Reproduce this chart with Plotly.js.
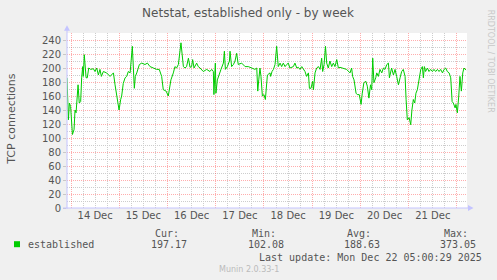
<!DOCTYPE html>
<html>
<head>
<meta charset="utf-8">
<script src="https://cdn.plot.ly/plotly-3.0.1.min.js"></script>
<style>
html,body{margin:0;padding:0;background:#F0F0F0;}
#chart{width:497px;height:280px;}
</style>
</head>
<body>
<div id="chart"></div>
<script>
// Hours since 2025-12-13 22:00 (start of the plotted window) and TCP connection counts
const startTime = Date.UTC(2025, 11, 13, 22, 0, 0);
const endTime = Date.UTC(2025, 11, 22, 5, 0, 0);
const hours = [
0,0.7,1.2,1.8,2.7,3.5,4,4.5,5.1,5.5,6.1,6.8,7.3,7.8,8.1,8.6,9.5,10.1,10.8,11.8,13.1,13.9,14.8,15.6,16.4,17.1,18.1,19.7,21.4,22.2,23.1,23.9,
24.7,25,25.9,26.7,27.2,28,28.9,29.7,30.5,31.4,32.5,33.5,34,34.7,36,37.2,38.8,40,41.3,43,44.6,45.9,47.1,47.9,49.3,50.4,50.9,51.7,52.9,53.7,
54.5,55.4,56.7,57.9,58.7,59.5,60.4,61.2,62,62.5,63.2,64.5,65.3,66.2,67.8,69.5,71.1,72,72.8,73.1,73.8,74.1,74.8,75.8,76.6,77.8,78.3,78.8,
79.8,80.8,81.1,81.9,82.8,83.6,84.4,85.2,86.9,88.6,90.2,91.9,93.5,94.4,94.9,95.4,96,96.5,97.2,98,98.7,99.7,101,101.3,102,102.7,103.5,
104.3,105.1,106,106.8,107.6,108.5,109.3,110.1,110.9,111.8,112.6,113.4,114.3,115.1,115.9,116.8,117.6,118.4,119.2,120.1,120.6,121.4,122.2,
122.6,123.4,124.2,125.1,125.9,126.7,127.2,127.9,128.6,129.2,130,130.8,131.7,132.5,133.3,134.2,135,135.8,137.5,139.1,140.8,141.6,142.1,
142.8,143.8,144.4,145.4,146.3,146.9,147.7,148.7,149.4,150.2,151,151.6,152.1,152.7,153.6,154.1,154.9,155.7,156.6,157.4,158.2,159.1,159.9,
160.4,161.1,161.5,162.4,163.2,164,164.9,165.7,166.5,167.3,168.2,168.7,169.3,170.2,171,171.6,172.3,173,173.6,174.3,175.1,176,176.8,177.3,
177.8,178.4,179.3,180.1,180.9,181.8,182.6,183.4,184.3,185.1,185.9,186.8,187.6,188.4,189.2,190.1,190.9,191.6,192.2,193.1,193.5,194.2,
194.9,195.5,196.2,196.9,197.5,198,198.5
];
const conns = [
186,126,150,145,105,112,140,136,160,176,150,152,186,202,188,219,186,186,200,198,199,195,200,190,198,188,195,193,188,190,193,176,
160,152,140,155,160,178,186,188,195,193,231,171,188,193,205,207,205,207,202,200,198,198,188,169,167,160,167,183,193,202,
200,205,236,202,200,202,214,201,202,212,200,207,202,200,195,198,195,198,195,162,207,164,183,190,198,207,224,198,
202,210,224,202,205,210,221,205,207,202,202,200,198,200,167,183,200,188,160,162,155,190,193,188,195,198,205,
231,202,207,202,207,202,205,207,200,201,202,207,200,201,198,202,198,195,188,193,171,171,181,
169,193,200,202,198,214,195,205,231,207,200,210,202,207,202,212,200,201,200,198,193,200,188,
183,164,162,162,148,164,179,181,174,157,176,169,214,179,186,193,188,198,193,200,198,205,207,
186,195,200,190,198,188,176,186,195,198,188,155,126,129,119,140,155,150,164,169,186,198,202,186,
202,195,200,195,198,195,198,195,198,195,198,193,198,200,195,193,186,152,150,143,148,136,
160,188,167,193,200,198,197
];
const seriesName = "established";
const statLabels = ["Cur:", "Min:", "Avg:", "Max:"];
const statValues = ["197.17", "102.08", "188.63", "373.05"];
const chartTitle = "Netstat, established only - by week";
const yTitle = "TCP connections";
const lastUpdate = "Last update: Mon Dec 22 05:00:29 2025";
const footer = "Munin 2.0.33-1";
const sideText = "RRDTOOL / TOBI OETIKER";

const times = hours.map(h => new Date(startTime + h * 3600000).toISOString());

// plot area geometry in pixels
const L = 67, R = 467, T = 33.3, B = 208.3;
const px = x => (x - L) / (R - L);
const py = y => (B - y) / (B - T);

const txtColor = '#555555';
const sans = 'DejaVu Sans, sans-serif';
const mono = 'DejaVu Sans Mono, monospace';
const axisBlue = '#C4C4FF';
const majorGrid = 'rgba(255,60,60,0.42)';
const minorGrid = '#CDCDCD';

const statX1 = [180, 277, 372, 469];
const statX2 = [188, 285, 381, 477];

const annotations = [];
annotations.push({xref:'paper', yref:'paper', x:px(12), y:py(119), text:yTitle, textangle:-90,
  showarrow:false, font:{family:sans, size:11, color:txtColor}, xanchor:'center', yanchor:'middle', borderpad:0});
annotations.push({xref:'paper', yref:'paper', x:px(490), y:py(61), text:sideText, textangle:90,
  showarrow:false, font:{family:sans, size:8, color:'#C8C8C8'}, xanchor:'center', yanchor:'middle', borderpad:0});
statLabels.forEach((s, i) => {
  annotations.push({xref:'paper', yref:'paper', x:px(statX1[i]), y:py(233.3), text:s, showarrow:false,
    font:{family:mono, size:10, color:txtColor}, xanchor:'right', yanchor:'middle', borderpad:0});
  annotations.push({xref:'paper', yref:'paper', x:px(statX2[i]), y:py(245), text:statValues[i], showarrow:false,
    font:{family:mono, size:10, color:txtColor}, xanchor:'right', yanchor:'middle', borderpad:0});
});
annotations.push({xref:'paper', yref:'paper', x:px(27), y:py(245), text:seriesName, showarrow:false,
  font:{family:mono, size:10, color:txtColor}, xanchor:'left', yanchor:'middle', borderpad:0});
annotations.push({xref:'paper', yref:'paper', x:px(483), y:py(257.3), text:lastUpdate, showarrow:false,
  font:{family:mono, size:10, color:txtColor}, xanchor:'right', yanchor:'middle', borderpad:0});
annotations.push({xref:'paper', yref:'paper', x:px(248.5), y:py(269.3), text:footer, showarrow:false,
  font:{family:sans, size:8, color:'#BBBBBB'}, xanchor:'center', yanchor:'middle', borderpad:0});

const shapes = [
  // y axis line + arrow
  {type:'line', xref:'paper', yref:'paper', x0:0, x1:0, y0:py(209), y1:py(28), line:{color:axisBlue, width:1}},
  {type:'path', xref:'paper', yref:'paper', path:`M ${px(64)} ${py(31)} L ${px(70)} ${py(31)} L ${px(67)} ${py(25.5)} Z`,
    fillcolor:axisBlue, line:{width:0}},
  // x axis line + arrow
  {type:'line', xref:'paper', yref:'paper', x0:px(63), x1:px(472), y0:0, y1:0, line:{color:axisBlue, width:1}},
  {type:'path', xref:'paper', yref:'paper', path:`M ${px(468)} ${py(205.3)} L ${px(468)} ${py(211.3)} L ${px(473.5)} ${py(208.3)} Z`,
    fillcolor:axisBlue, line:{width:0}},
  // legend swatch
  {type:'rect', xref:'paper', yref:'paper', x0:px(14), x1:px(20), y0:py(247.5), y1:py(241.5),
    fillcolor:'#00CC00', line:{width:0}}
];

const trace = {
  x: times, y: conns, type:'scatter', mode:'lines', name: seriesName,
  line:{color:'#00CC00', width:1}, hoverinfo:'skip'
};

const layout = {
  width:497, height:280,
  paper_bgcolor:'#F0F0F0', plot_bgcolor:'#FFFFFF',
  margin:{l:L, r:497-R, t:T, b:280-B, pad:0},
  showlegend:false,
  title:{text:chartTitle, xref:'container', yref:'container', x:248/497, y:1-13/280,
    xanchor:'center', yanchor:'middle', font:{family:sans, size:12, color:txtColor}},
  xaxis:{
    type:'date', range:[new Date(startTime).toISOString(), new Date(endTime).toISOString()],
    dtick:86400000, tick0:'2025-12-14', tickformat:'%d %b', ticklabelmode:'period',
    showgrid:true, gridcolor:majorGrid, griddash:'1px,1px', gridwidth:1,
    minor:{dtick:21600000, tick0:'2025-12-14', showgrid:true, gridcolor:minorGrid, griddash:'1px,1px', gridwidth:1},
    ticks:'', zeroline:false, showline:false,
    tickfont:{family:sans, size:10, color:txtColor}, fixedrange:true
  },
  yaxis:{
    range:[0, 250], dtick:20, tick0:0,
    showgrid:true, gridcolor:majorGrid, griddash:'1px,1px', gridwidth:1,
    minor:{dtick:10, showgrid:true, gridcolor:minorGrid, griddash:'1px,1px', gridwidth:1},
    ticks:'outside', ticklen:3, tickcolor:'#C8C8C8',
    zeroline:false, showline:false,
    tickfont:{family:sans, size:10, color:txtColor}, fixedrange:true
  },
  annotations: annotations,
  shapes: shapes
};

Plotly.newPlot('chart', [trace], layout, {staticPlot:true, displayModeBar:false});
</script>
</body>
</html>
